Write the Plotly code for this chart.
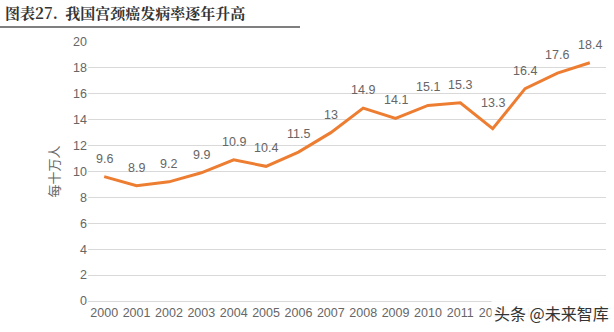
import plotly.graph_objects as go

years = [str(y) for y in range(2000, 2016)]
rates = [9.6, 8.9, 9.2, 9.9, 10.9, 10.4, 11.5, 13, 14.9, 14.1, 15.1, 15.3, 13.3, 16.4, 17.6, 18.4]

W, H = 614, 332
L, R, T, B = 88, 8, 42, 31
pw, ph = W - L - R, H - T - B

def px(x):
    return (x - L) / pw

def py(y):
    return (H - B - y) / ph

fig = go.Figure()
fig.add_trace(go.Scatter(
    x=years, y=rates, mode="lines",
    line=dict(color="#ED7D31", width=3),
    hoverinfo="skip",
))

for i, v in enumerate(rates):
    shift = 26 if v == 13.3 else 18
    fig.add_annotation(
        x=i, y=v, text=f"{v:g}", showarrow=False, yshift=shift,
        font=dict(family="Liberation Sans, Arial", size=12.5, color="#666666"),
    )

fig.update_layout(
    width=W, height=H,
    margin=dict(l=L, r=R, t=T, b=B),
    paper_bgcolor="white", plot_bgcolor="white",
    showlegend=False,
    xaxis=dict(type="category", showgrid=False, showline=True, linecolor="#D9D9D9",
               linewidth=1, ticks="", tickfont=dict(family="Liberation Sans, Arial", size=12.5, color="#666666"),
               range=[-0.5, 15.5]),
    yaxis=dict(range=[0, 20], dtick=2, showgrid=True, gridcolor="#D9D9D9", gridwidth=1,
               zeroline=False, ticks="", showline=False,
               tickfont=dict(family="Liberation Sans, Arial", size=12.5, color="#666666"),
               title=dict(text="每十万人", font=dict(family="Noto Sans CJK SC", size=13, color="#666666"),
                          standoff=10)),
    font=dict(family="Noto Sans CJK SC"),
)

fig.add_annotation(
    text="<b>图表27.  我国宫颈癌发病率逐年升高</b>",
    xref="paper", yref="paper", x=px(3), y=py(12), xanchor="left", yanchor="middle",
    showarrow=False, font=dict(family="Noto Serif CJK SC, Noto Sans CJK SC", size=15, color="#333333"),
)
fig.add_shape(type="line", xref="paper", yref="paper", x0=px(0), x1=px(300), y0=py(27), y1=py(27),
              line=dict(color="#555555", width=1.5))

fig.add_annotation(
    text="头条 @未来智库",
    xref="paper", yref="paper", x=px(612), y=py(313), xanchor="right", yanchor="middle",
    showarrow=False, bgcolor="rgba(255,255,255,0.92)", borderpad=2,
    font=dict(family="Noto Sans CJK SC", size=16, color="#333333"),
)

fig.write_html("out.html")
